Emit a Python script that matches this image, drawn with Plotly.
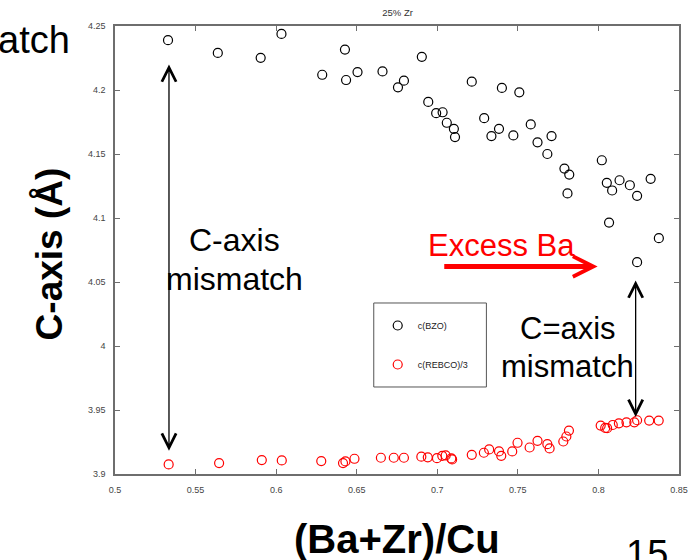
import plotly.graph_objects as go

# (Ba+Zr)/Cu ratio and c-axis lattice parameter (Å) of the BZO phase
bzo_ratio = [0.5329, 0.5638, 0.5904, 0.6033, 0.6286, 0.6427, 0.6434, 0.6505, 0.6660, 0.6756,
             0.6793, 0.6904, 0.6944, 0.6993, 0.7033, 0.7059, 0.7103, 0.7110, 0.7214, 0.7291,
             0.7336, 0.7383, 0.7401, 0.7472, 0.7509, 0.7580, 0.7622, 0.7683, 0.7709, 0.7789,
             0.7819, 0.7808, 0.8021, 0.8052, 0.8085, 0.8131, 0.8195, 0.8240, 0.8324, 0.8066,
             0.8375, 0.8240]
bzo_c = [4.2389, 4.2290, 4.2251, 4.2438, 4.2119, 4.2316, 4.2078, 4.2140, 4.2145, 4.2021,
         4.2073, 4.2259, 4.1907, 4.1819, 4.1826, 4.1744, 4.1697, 4.1632, 4.2065, 4.1780,
         4.1640, 4.1697, 4.2016, 4.1645, 4.1982, 4.1731, 4.1591, 4.1500, 4.1640, 4.1386,
         4.1339, 4.1192, 4.1451, 4.1275, 4.1215, 4.1295, 4.1256, 4.1173, 4.1306, 4.0964,
         4.0842, 4.0655]

# (Ba+Zr)/Cu ratio and c-axis of REBCO divided by 3
rebco_ratio = [0.5333, 0.5646, 0.5911, 0.6035, 0.6280, 0.6415, 0.6430, 0.6486, 0.6650, 0.6730,
               0.6793, 0.6901, 0.6941, 0.6998, 0.7031, 0.7052, 0.7087, 0.7092, 0.7214, 0.7289,
               0.7322, 0.7383, 0.7397, 0.7465, 0.7498, 0.7573, 0.7622, 0.7683, 0.7697, 0.7782,
               0.7801, 0.7817, 0.8014, 0.8042, 0.8054, 0.8089, 0.8127, 0.8174, 0.8223, 0.8240,
               0.8315, 0.8374]
rebco_c3 = [3.9075, 3.9085, 3.9109, 3.9106, 3.9101, 3.9085, 3.9098, 3.9119, 3.9127, 3.9127,
            3.9127, 3.9135, 3.9130, 3.9124, 3.9142, 3.9145, 3.9122, 3.9114, 3.9150, 3.9166,
            3.9192, 3.9176, 3.9142, 3.9176, 3.9244, 3.9207, 3.9259, 3.9233, 3.9200, 3.9254,
            3.9293, 3.9339, 3.9378, 3.9360, 3.9358, 3.9383, 3.9396, 3.9404, 3.9404, 3.9420,
            3.9417, 3.9417]

x_ticks = [0.5, 0.55, 0.6, 0.65, 0.7, 0.75, 0.8, 0.85]
x_ticklabels = ["0.5", "0.55", "0.6", "0.65", "0.7", "0.75", "0.8", "0.85"]
y_ticks = [3.9, 3.95, 4.0, 4.05, 4.1, 4.15, 4.2, 4.25]
y_ticklabels = ["3.9", "3.95", "4", "4.05", "4.1", "4.15", "4.2", "4.25"]

FONT = "Liberation Sans, Arial, sans-serif"
FRAME = "#6e6e6e"

fig = go.Figure()
fig.add_trace(go.Scatter(
    x=bzo_ratio, y=bzo_c, mode="markers", name="c(BZO)", legendgroup="a",
    marker=dict(symbol="circle-open", size=9, color="black", line=dict(width=1.2, color="black")),
))
fig.add_trace(go.Scatter(
    x=rebco_ratio, y=rebco_c3, mode="markers", name="c(REBCO)/3", legendgroup="b",
    marker=dict(symbol="circle-open", size=9, color="#ff0000", line=dict(width=1.2, color="#ff0000")),
))

axis_common = dict(
    showline=True, linecolor=FRAME, linewidth=1.5, mirror="allticks",
    ticks="inside", ticklen=5, tickcolor=FRAME, tickwidth=1,
    showgrid=False, zeroline=False,
    tickfont=dict(family=FONT, size=9, color="#444"),
    ticklabelstandoff=6,
)

fig.update_xaxes(range=[0.5, 0.85], tickvals=x_ticks, ticktext=x_ticklabels, **axis_common)
fig.update_yaxes(range=[3.9, 4.25], tickvals=y_ticks, ticktext=y_ticklabels, **axis_common)

annotations = [
    # axis titles
    dict(text="<b>C-axis (Å)</b>", xref="paper", yref="paper", x=-0.1156, y=0.492,
         textangle=-90, showarrow=False, font=dict(family=FONT, size=37, color="black"),
         xanchor="center", yanchor="middle"),
    dict(text="<b>(Ba+Zr)/Cu</b>", xref="paper", yref="paper", x=0.5, y=-0.145,
         showarrow=False, font=dict(family=FONT, size=40, color="black"),
         xanchor="center", yanchor="middle"),
    # slide fragments around the chart
    dict(text="atch", xref="paper", yref="paper", x=-0.0770, y=0.9694,
         showarrow=False, font=dict(family=FONT, size=38, color="black"),
         xanchor="right", yanchor="middle"),
    dict(text="15", xref="paper", yref="paper", x=0.902, y=-0.1268,
         showarrow=False, font=dict(family=FONT, size=38, color="black"),
         xanchor="left", yanchor="top"),
    # chart notes
    dict(text="C-axis", x=0.5741, y=4.0829, showarrow=False,
         font=dict(family=FONT, size=32, color="black")),
    dict(text="mismatch", x=0.5741, y=4.0527, showarrow=False,
         font=dict(family=FONT, size=32, color="black")),
    dict(text="Excess Ba", x=0.7400, y=4.0785, showarrow=False,
         font=dict(family=FONT, size=31, color="#ff0000")),
    dict(text="C=axis", x=0.7810, y=4.0137, showarrow=False,
         font=dict(family=FONT, size=31, color="black")),
    dict(text="mismatch", x=0.7810, y=3.9840, showarrow=False,
         font=dict(family=FONT, size=31, color="black")),
    # arrows
    dict(text="", x=0.5335, y=4.2200, ax=0.5335, ay=3.917, axref="x", ayref="y",
         showarrow=True, arrowside="end+start", arrowhead=5, startarrowhead=5,
         arrowsize=2.15, startarrowsize=2.15, arrowwidth=1.3, arrowcolor="black"),
    dict(text="", x=0.8231, y=4.0512, ax=0.8231, ay=3.9434, axref="x", ayref="y",
         showarrow=True, arrowside="end+start", arrowhead=5, startarrowhead=5,
         arrowsize=2.15, startarrowsize=2.15, arrowwidth=1.3, arrowcolor="black"),
    dict(text="", x=0.7995, y=4.0621, ax=0.7034, ay=4.0621, axref="x", ayref="y",
         showarrow=True, arrowhead=5, arrowsize=0.8, arrowwidth=5, arrowcolor="#ff0000"),
]

fig.update_layout(
    width=700, height=560,
    margin=dict(l=115, r=14, t=26, b=86),
    paper_bgcolor="white", plot_bgcolor="white",
    title=dict(text="25% Zr", x=0.568, xanchor="center", y=0.978, yanchor="middle",
               font=dict(family=FONT, size=9.5, color="#333")),
    showlegend=True,
    legend=dict(x=0.4658, y=0.3638, xanchor="left", yanchor="top",
                bgcolor="rgba(0,0,0,0)", borderwidth=0,
                font=dict(family=FONT, size=9, color="#222"),
                traceorder="grouped", tracegroupgap=20),
    shapes=[dict(type="rect", xref="paper", yref="paper",
                 x0=0.4588, x1=0.6585, y0=0.1942, y1=0.3817,
                 line=dict(color="#555", width=1), fillcolor="rgba(0,0,0,0)")],
    annotations=annotations,
)

fig.write_html("out.html")
